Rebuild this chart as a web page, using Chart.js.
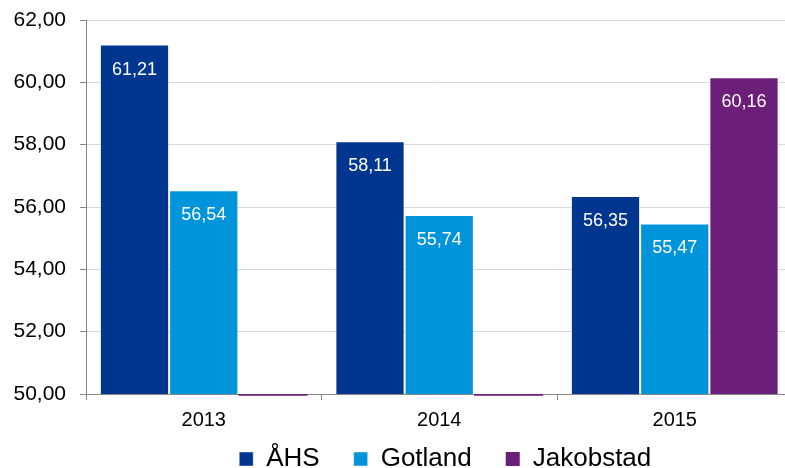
<!DOCTYPE html>
<html>
<head>
<meta charset="utf-8">
<script src="https://cdn.jsdelivr.net/npm/chart.js@4"></script>
<style>
  html, body { margin: 0; padding: 0; background: #fff; overflow: hidden; }
  #wrap { width: 900px; height: 468px; }
</style>
</head>
<body>
<div id="wrap"><canvas id="barChart"></canvas></div>
<script>
// values
var years = ['2013', '2014', '2015'];
var ahs = [61.21, 58.11, 56.35];
var gotland = [56.54, 55.74, 55.47];
var jakobstad = [49.94, 49.94, 60.16]; // first two only show as a thin stub under the axis
var yTicks = [50, 52, 54, 56, 58, 60, 62];

var FONT = "'Liberation Sans', Arial, sans-serif";

function fmt(v) {
  return v.toFixed(2).replace('.', ',');
}

// white value labels near the top of each bar
var barLabels = {
  id: 'barLabels',
  afterLayout: function (chart) {
    // x axis box is squeezed to fit the legend, give its labels room again
    chart.scales.x.bottom = chart.scales.x.top + 45;
    // legend sits a bit right of the canvas centre in the original
    chart.legend.left += 49;
    chart.legend.right += 49;
  },
  afterDatasetsDraw: function (chart) {
    var ctx = chart.ctx;
    ctx.save();
    ctx.fillStyle = '#ffffff';
    ctx.font = '18px ' + FONT;
    ctx.textAlign = 'center';
    ctx.textBaseline = 'middle';
    chart.data.datasets.forEach(function (ds, i) {
      var meta = chart.getDatasetMeta(i);
      meta.data.forEach(function (bar, j) {
        var v = ds.values[j];
        if (v <= 50) return;
        ctx.fillText(fmt(v), bar.x, bar.y + 25);
      });
    });
    ctx.restore();
  }
};

function makeSet(label, values, color) {
  return {
    label: label,
    values: values,
    // bars float up (or down) from the 50 baseline, like the original axis
    data: values.map(function (v) { return [Math.min(v, 50), Math.max(v, 50)]; }),
    backgroundColor: color,
    borderColor: 'rgba(255,255,255,0.45)',
    borderWidth: function (c) { return values[c.dataIndex] < 50 ? 0 : 1; },
    borderSkipped: 'bottom',
    barPercentage: 1,
    categoryPercentage: 0.882,
    clip: false
  };
}

var ctx = document.getElementById('barChart').getContext('2d');
var myChart = new Chart(ctx, {
  type: 'bar',
  data: {
    labels: years,
    datasets: [
      makeSet('ÅHS', ahs, '#00368f'),
      makeSet('Gotland', gotland, '#0094da'),
      makeSet('Jakobstad', jakobstad, '#6c1f78')
    ]
  },
  options: {
    responsive: true,
    maintainAspectRatio: false,
    animation: false,
    layout: { padding: { top: 20, right: 107.5, bottom: -14, left: 0 } },
    plugins: {
      tooltip: { enabled: false },
      legend: {
        position: 'bottom',
        labels: {
          color: '#000',
          font: { family: FONT, size: 26 },
          boxWidth: 14,
          boxHeight: 14,
          padding: 34
        }
      }
    },
    scales: {
      x: {
        afterFit: function (scale) { scale.height = 18; },
        grid: {
          display: true,
          drawOnChartArea: false,
          offset: true,
          tickLength: 6,
          tickColor: '#868686'
        },
        border: { color: '#868686' },
        ticks: { color: '#000', font: { family: FONT, size: 20 }, padding: 8 }
      },
      y: {
        min: 50,
        max: 62,
        afterBuildTicks: function (scale) {
          scale.ticks = yTicks.map(function (v) { return { value: v }; });
        },
        afterFit: function (scale) {
          scale.width = 86;
          scale.paddingTop = 0;
          scale.paddingBottom = 0;
        },
        grid: {
          color: '#d9d9d9',
          tickLength: 6,
          tickColor: '#868686'
        },
        border: { color: '#868686' },
        ticks: {
          color: '#000',
          font: { family: FONT, size: 21 },
          padding: 14,
          callback: function (v) { return fmt(v); }
        }
      }
    }
  },
  plugins: [barLabels]
});
</script>
</body>
</html>
